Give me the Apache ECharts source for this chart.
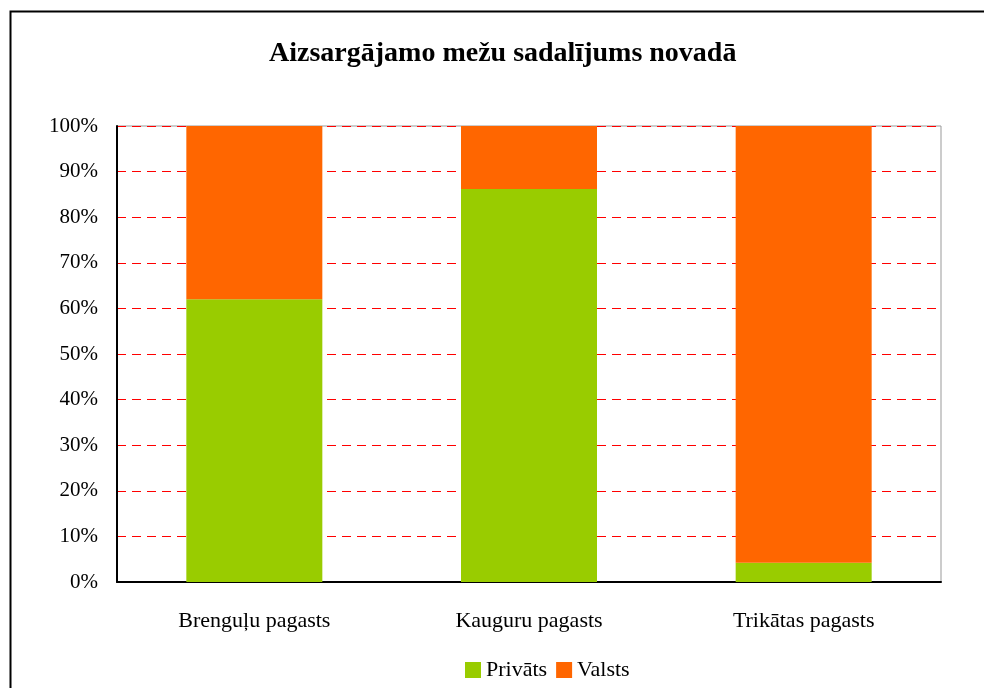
<!DOCTYPE html>
<html>
<head>
<meta charset="utf-8">
<script src="https://cdn.jsdelivr.net/npm/echarts@6/dist/echarts.min.js"></script>
<style>
  html, body { margin: 0; padding: 0; background: #fff; }
  #mapChart { width: 984px; height: 688px; }
</style>
</head>
<body>
<div id="mapChart"></div>
<script>
// pagasti (kategorijas)
var categories = ['Brenguļu pagasts', 'Kauguru pagasts', 'Trikātas pagasts'];
// meža īpatsvars, %
var privatsData = [62, 86.2, 4.2];
var valstsData = [38, 13.8, 95.8];
var seriesNames = ['Privāts', 'Valsts'];
var yTicks = [0, 10, 20, 30, 40, 50, 60, 70, 80, 90, 100];

var serif = '"Liberation Serif", "DejaVu Serif", serif';

var myChart = echarts.init(document.getElementById('mapChart'));
myChart.setOption({
    backgroundColor: '#fff',
    animation: false,
    title: {
        text: 'Aizsargājamo mežu sadalījums novadā',
        left: 264,
        top: 35,
        textStyle: {
            fontFamily: serif,
            fontSize: 28,
            fontWeight: 'bold',
            color: '#000'
        }
    },
    graphic: [{
        type: 'rect',
        left: 8,
        top: 9,
        shape: { width: 1100, height: 800 },
        style: { fill: 'none', stroke: '#000', lineWidth: 2 },
        silent: true
    }],
    legend: {
        bottom: 2,
        left: 460,
        itemWidth: 16,
        itemHeight: 16,
        itemGap: 9,
        icon: 'rect',
        textStyle: { fontFamily: serif, fontSize: 22, color: '#000' },
        data: seriesNames
    },
    grid: {
        left: 117,
        right: 43,
        top: 126,
        bottom: 106,
        show: true,
        borderColor: '#999',
        borderWidth: 1,
        backgroundColor: '#fff'
    },
    xAxis: {
        type: 'category',
        data: categories,
        axisLine: { lineStyle: { color: '#000', width: 2 } },
        axisTick: { show: false },
        axisLabel: {
            fontFamily: serif,
            fontSize: 22,
            color: '#000',
            margin: 28
        }
    },
    yAxis: {
        type: 'value',
        min: 0,
        max: 100,
        interval: 10,
        axisLine: { show: true, lineStyle: { color: '#000', width: 2 } },
        axisTick: { show: false },
        axisLabel: {
            fontFamily: serif,
            fontSize: 21,
            color: '#000',
            margin: 19,
            formatter: function (v) {
                return yTicks.indexOf(v) >= 0 ? v + '%' : '';
            }
        },
        splitLine: {
            lineStyle: { color: '#ff0000', type: [9, 6], width: 1 }
        }
    },
    series: [
        {
            name: seriesNames[0],
            type: 'bar',
            stack: 'total',
            barWidth: 136,
            itemStyle: { color: '#99cc00' },
            data: privatsData
        },
        {
            name: seriesNames[1],
            type: 'bar',
            stack: 'total',
            barWidth: 136,
            itemStyle: { color: '#ff6600' },
            data: valstsData
        }
    ]
});
</script>
</body>
</html>
